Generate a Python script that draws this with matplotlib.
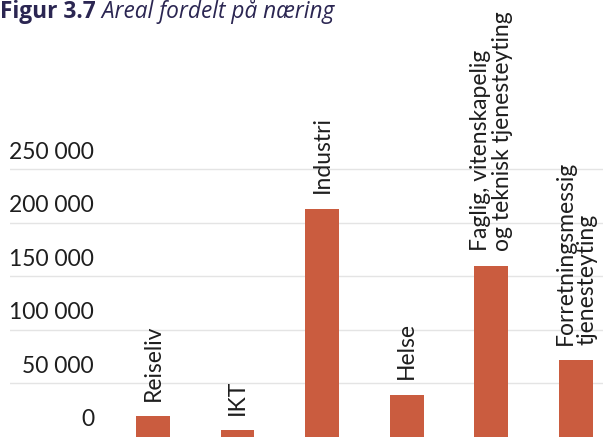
import matplotlib
matplotlib.use("Agg")
import matplotlib.pyplot as plt
import matplotlib.transforms as mtransforms

# data
categories = [
    "Reiseliv",
    "IKT",
    "Industri",
    "Helse",
    "Faglig, vitenskapelig\nog teknisk tjenesteyting",
    "Forretningsmessig\ntjenesteyting",
]
areal = [19000, 6000, 213000, 39000, 159000, 71500]
y_ticks = [0, 50000, 100000, 150000, 200000, 250000]
y_tick_labels = ["0", "50 000", "100 000", "150 000", "200 000", "250 000"]

bar_color = "#CA5C3F"
text_color = "#1e1e1e"
title_color = "#2B2652"

plt.rcParams["font.family"] = ["Lato", "DejaVu Sans"]

fig = plt.figure(figsize=(6.03, 4.37), dpi=100)
ax = fig.add_axes([10 / 603, 0.5 / 437, 593 / 603, 1 - 0.5 / 437])

x = list(range(len(categories)))
ax.bar(x, areal, width=0.4, color=bar_color, zorder=2)

ax.set_xlim(-1.69, 5.32)
ax.set_ylim(0, 408000)

# grid lines (no line at zero)
for v in y_ticks[1:]:
    ax.axhline(v, color="#e4e4e4", lw=1, zorder=1)

# tick labels sit above the grid lines
trans = mtransforms.blended_transform_factory(fig.transFigure, ax.transData)
for v, lab in zip(y_ticks, y_tick_labels):
    ax.annotate(lab, xy=(94 / 603, v), xycoords=trans, xytext=(0, 4.5),
                textcoords="offset points", ha="right", va="bottom",
                fontsize=16.5, color=text_color)

# category labels above bars
for xi, val, lab in zip(x, areal, categories):
    ax.annotate(lab, xy=(xi, val), xytext=(0, 11), textcoords="offset points",
                rotation=90, ha="center", va="bottom", multialignment="left",
                fontsize=16.5, color=text_color, linespacing=1.05)

ax.set_xticks([])
ax.set_yticks([])
for s in ax.spines.values():
    s.set_visible(False)
ax.patch.set_alpha(0)

# title: bold number + italic text
title_y = 1.0 - 17.5 / 437
t1 = fig.text(0.0, title_y, "Figur 3.7", fontsize=16.3, fontweight="bold",
              color=title_color, ha="left", va="baseline",
              family=["Open Sans", "DejaVu Sans"])
t2 = fig.text(0.0, title_y, " Areal fordelt på næring", fontsize=16.3,
              fontstyle="italic", color=title_color, ha="left", va="baseline",
              family=["Open Sans", "DejaVu Sans"])
fig.canvas.draw()
bb = t1.get_window_extent()
t2.set_position((bb.x1 / fig.bbox.width, title_y))

fig.savefig("out.png", dpi=100)
